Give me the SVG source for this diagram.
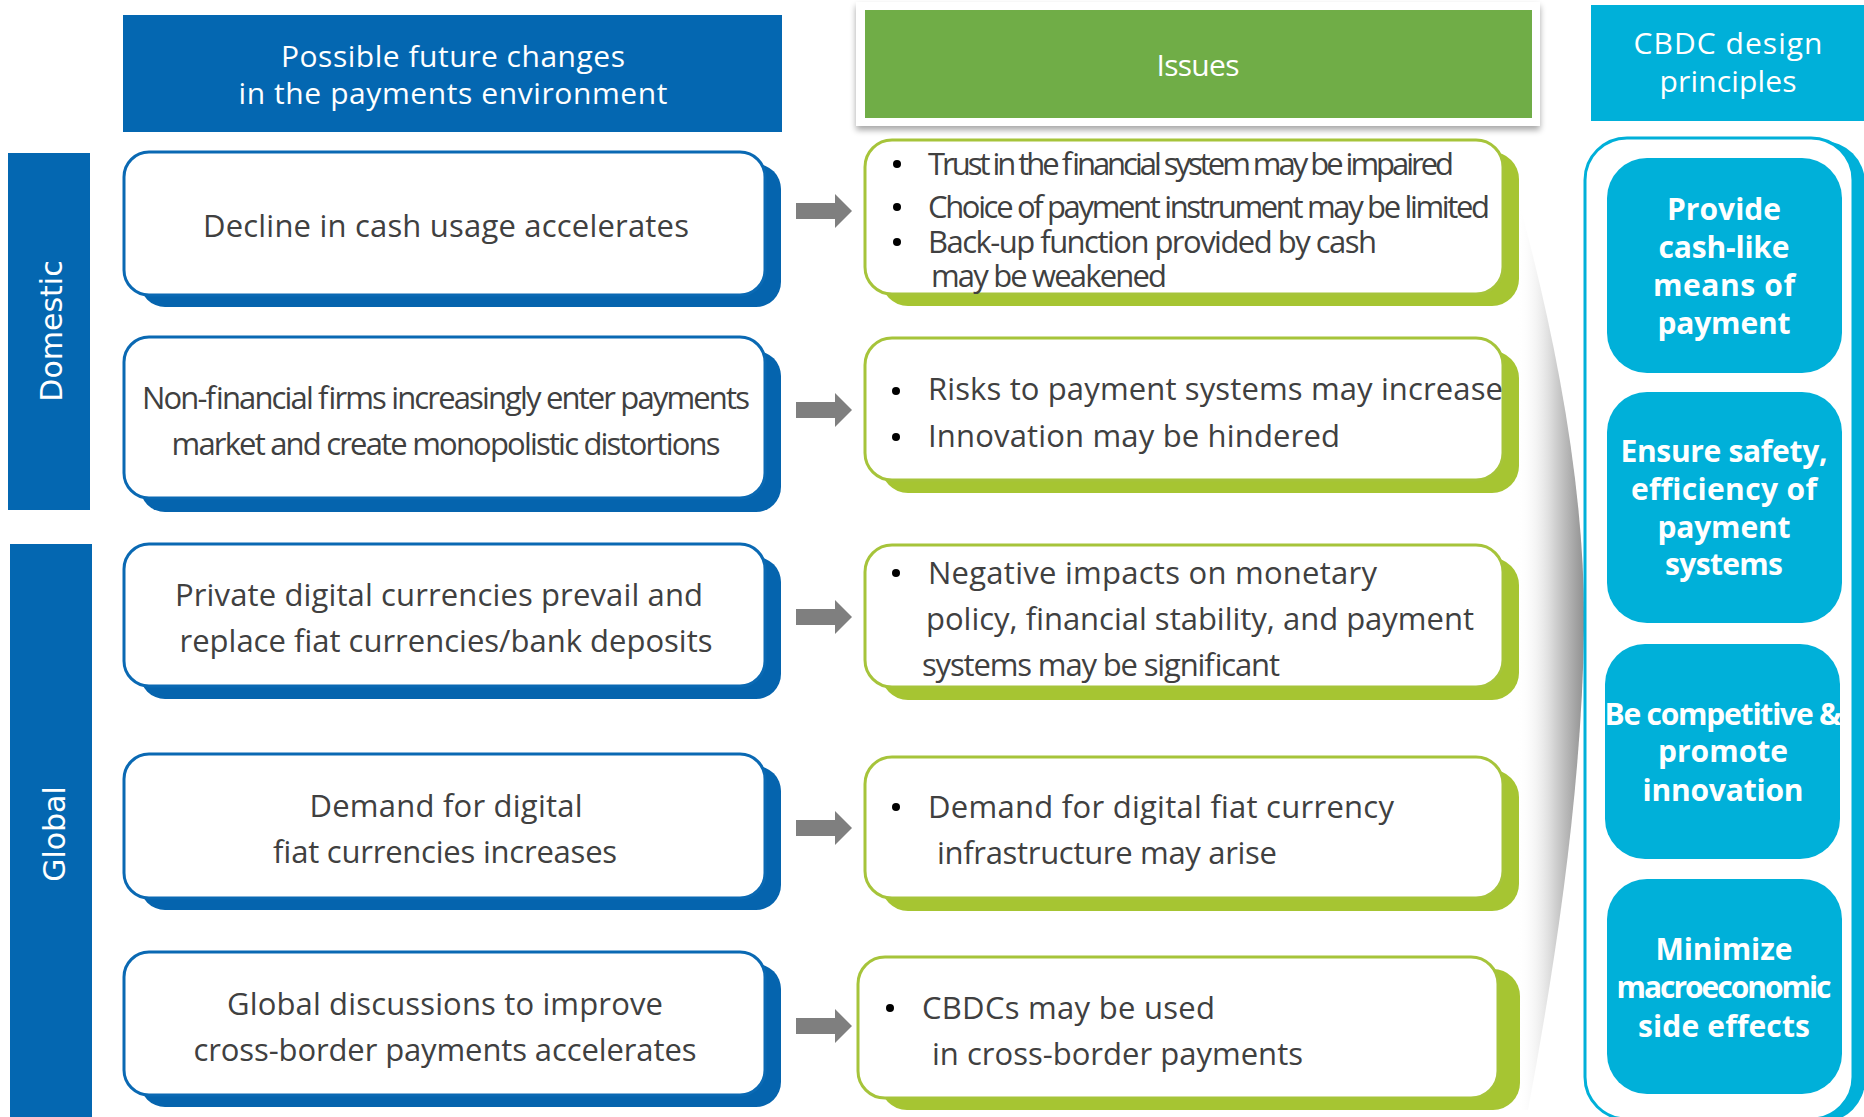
<svg xmlns="http://www.w3.org/2000/svg" width="1864" height="1117" viewBox="0 0 1864 1117">
<defs>
<style>
.t{font-family:"Open Sans","Noto Sans",sans-serif;}
.hd{font-size:30px;fill:#ffffff;text-anchor:middle;}
.lt{font-size:31px;fill:#404040;text-anchor:middle;}
.it{font-size:31px;fill:#404040;}
.rt{font-size:30px;font-weight:bold;fill:#ffffff;text-anchor:middle;}
.side{font-family:"DejaVu Sans",sans-serif;font-size:30px;fill:#ffffff;text-anchor:middle;}
.lbox{fill:#ffffff;stroke:#0A69B3;stroke-width:3;}
.lsh{fill:#0564AE;}
.ibox{fill:#ffffff;stroke:#A6C43A;stroke-width:3;}
.ish{fill:#A6C532;}
.cbox{fill:#00B0D9;}
.bul{fill:#000000;}
.arr{fill:#7F7F7F;}
</style>
<linearGradient id="funnel" gradientUnits="userSpaceOnUse" x1="1518" y1="0" x2="1586" y2="0">
<stop offset="0" stop-color="#ffffff" stop-opacity="0"/>
<stop offset="0.55" stop-color="#d0d0d0"/>
<stop offset="1" stop-color="#8c8c8c"/>
</linearGradient>
<filter id="shadow" x="-5%" y="-20%" width="110%" height="150%">
<feGaussianBlur in="SourceAlpha" stdDeviation="3"/>
<feOffset dx="0" dy="4"/>
<feComponentTransfer><feFuncA type="linear" slope="0.35"/></feComponentTransfer>
<feMerge><feMergeNode/><feMergeNode in="SourceGraphic"/></feMerge>
</filter>
<path id="arrow" d="M0,-8 L39,-8 L39,-17 L56,0 L39,17 L39,8 L0,8 Z"/>
</defs>
<rect x="0" y="0" width="1864" height="1117" fill="#ffffff"/>

<!-- funnel background -->
<path d="M1510,170 C1550,310 1586,480 1584,630 C1582,780 1558,950 1528,1110 L1505,1110 Z" fill="url(#funnel)"/>

<!-- headers -->
<g id="hdr-changes">
<rect x="123" y="15" width="659" height="117" fill="#0467B1"/>
<text class="t hd" x="453" y="67" textLength="344">Possible future changes</text>
<text class="t hd" x="453" y="104" textLength="429">in the payments environment</text>
</g>
<g id="hdr-issues">
<rect x="856" y="2" width="684" height="124" fill="#ffffff" filter="url(#shadow)"/>
<rect x="865" y="10" width="667" height="108" fill="#70AD47"/>
<text class="t hd" x="1198" y="76" font-size="32" textLength="83">Issues</text>
</g>
<g id="hdr-principles">
<rect x="1591" y="5" width="280" height="116" fill="#00B0D9"/>
<text class="t hd" x="1728" y="54" textLength="189">CBDC design</text>
<text class="t hd" x="1728" y="92" textLength="137">principles</text>
</g>

<!-- side labels -->
<g id="domestic">
<rect x="8" y="153" width="82" height="357" fill="#0467B1"/>
<text class="side" x="62" y="331" transform="rotate(-90 62 331)">Domestic</text>
</g>
<g id="global">
<rect x="10" y="544" width="82" height="580" fill="#0467B1"/>
<text class="side" x="65" y="834" transform="rotate(-90 65 834)">Global</text>
</g>

<!-- left boxes -->
<g id="change-1">
<rect class="lsh" x="140" y="164" width="641" height="143" rx="25"/>
<rect class="lbox" x="124" y="152" width="641" height="143" rx="25"/>
<text class="t lt" x="446" y="237" textLength="486">Decline in cash usage accelerates</text>
</g>
<g id="change-2">
<rect class="lsh" x="140" y="351" width="641" height="161" rx="25"/>
<rect class="lbox" x="124" y="337" width="641" height="161" rx="25"/>
<text class="t lt" x="446" y="409" textLength="608">Non-financial firms increasingly enter payments</text>
<text class="t lt" x="446" y="455" textLength="549">market and create monopolistic distortions</text>
</g>
<g id="change-3">
<rect class="lsh" x="140" y="557" width="641" height="142" rx="25"/>
<rect class="lbox" x="124" y="544" width="641" height="142" rx="25"/>
<text class="t lt" x="439" y="606" textLength="528">Private digital currencies prevail and</text>
<text class="t lt" x="446" y="652" textLength="533">replace fiat currencies/bank deposits</text>
</g>
<g id="change-4">
<rect class="lsh" x="140" y="766" width="641" height="144" rx="25"/>
<rect class="lbox" x="124" y="754" width="641" height="144" rx="25"/>
<text class="t lt" x="446" y="817" textLength="273">Demand for digital</text>
<text class="t lt" x="445" y="863" textLength="344">fiat currencies increases</text>
</g>
<g id="change-5">
<rect class="lsh" x="140" y="964" width="641" height="143" rx="25"/>
<rect class="lbox" x="124" y="952" width="641" height="143" rx="25"/>
<text class="t lt" x="445" y="1015" textLength="436">Global discussions to improve</text>
<text class="t lt" x="445" y="1061" textLength="503">cross-border payments accelerates</text>
</g>

<!-- connectors -->
<g id="connectors" class="arr">
<use href="#arrow" x="796" y="211"/>
<use href="#arrow" x="796" y="410"/>
<use href="#arrow" x="796" y="617"/>
<use href="#arrow" x="796" y="828"/>
<use href="#arrow" x="796" y="1026"/>
</g>

<!-- issue boxes -->
<g id="issue-1">
<rect class="ish" x="881" y="152" width="638" height="154" rx="27"/>
<rect class="ibox" x="865" y="140" width="638" height="154" rx="27"/>
<circle class="bul" cx="897" cy="164" r="4"/>
<circle class="bul" cx="897" cy="207" r="4"/>
<circle class="bul" cx="897" cy="242" r="4"/>
<text class="t it" x="928" y="175" font-size="30" textLength="526">Trust in the financial system may be impaired</text>
<text class="t it" x="928" y="218" font-size="30" textLength="562">Choice of payment instrument may be limited</text>
<text class="t it" x="928" y="253" font-size="30" textLength="449">Back-up function provided by cash</text>
<text class="t it" x="931" y="287" font-size="30" textLength="236">may be weakened</text>
</g>
<g id="issue-2">
<rect class="ish" x="881" y="351" width="638" height="142" rx="27"/>
<rect class="ibox" x="865" y="338" width="638" height="142" rx="27"/>
<circle class="bul" cx="896" cy="391" r="4"/>
<circle class="bul" cx="896" cy="437" r="4"/>
<text class="t it" x="928" y="400" textLength="575">Risks to payment systems may increase</text>
<text class="t it" x="928" y="447" textLength="412">Innovation may be hindered</text>
</g>
<g id="issue-3">
<rect class="ish" x="881" y="558" width="638" height="142" rx="27"/>
<rect class="ibox" x="865" y="545" width="638" height="142" rx="27"/>
<circle class="bul" cx="896" cy="573" r="4"/>
<text class="t it" x="928" y="584" textLength="449">Negative impacts on monetary</text>
<text class="t it" x="926" y="630" textLength="548">policy, financial stability, and payment</text>
<text class="t it" x="922" y="676" textLength="358">systems may be significant</text>
</g>
<g id="issue-4">
<rect class="ish" x="881" y="770" width="638" height="141" rx="27"/>
<rect class="ibox" x="865" y="757" width="638" height="141" rx="27"/>
<circle class="bul" cx="896" cy="807" r="4"/>
<text class="t it" x="928" y="818" textLength="466">Demand for digital fiat currency</text>
<text class="t it" x="937" y="864" textLength="340">infrastructure may arise</text>
</g>
<g id="issue-5">
<rect class="ish" x="880" y="969" width="640" height="141" rx="27"/>
<rect class="ibox" x="858" y="957" width="640" height="141" rx="27"/>
<circle class="bul" cx="890" cy="1008" r="4"/>
<text class="t it" x="922" y="1019" textLength="293">CBDCs may be used</text>
<text class="t it" x="932" y="1065" textLength="371">in cross-border payments</text>
</g>

<!-- principles frame -->
<g id="principles">
<rect x="1597" y="141" width="268" height="981" rx="42" fill="#00B0D9"/>
<rect x="1585" y="138" width="268" height="981" rx="42" fill="#ffffff" stroke="#00B0D9" stroke-width="3"/>
</g>
<g id="principle-1">
<rect class="cbox" x="1607" y="158" width="235" height="215" rx="40"/>
<text class="t rt" x="1724" y="220" textLength="114">Provide</text>
<text class="t rt" x="1724" y="258" textLength="131">cash-like</text>
<text class="t rt" x="1724" y="296" textLength="142">means of</text>
<text class="t rt" x="1724" y="334" textLength="133">payment</text>
</g>
<g id="principle-2">
<rect class="cbox" x="1607" y="392" width="235" height="231" rx="40"/>
<text class="t rt" x="1724" y="462" textLength="207">Ensure safety,</text>
<text class="t rt" x="1724" y="500" textLength="186">efficiency of</text>
<text class="t rt" x="1724" y="538" textLength="133">payment</text>
<text class="t rt" x="1724" y="575" textLength="118">systems</text>
</g>
<g id="principle-3">
<rect class="cbox" x="1605" y="644" width="235" height="215" rx="40"/>
<text class="t rt" x="1723" y="725" textLength="237">Be competitive &amp;</text>
<text class="t rt" x="1723" y="762" textLength="130">promote</text>
<text class="t rt" x="1723" y="801" textLength="161">innovation</text>
</g>
<g id="principle-4">
<rect class="cbox" x="1607" y="879" width="235" height="215" rx="40"/>
<text class="t rt" x="1724" y="960" textLength="137">Minimize</text>
<text class="t rt" x="1724" y="998" textLength="215">macroeconomic</text>
<text class="t rt" x="1724" y="1037" textLength="172">side effects</text>
</g>
</svg>
